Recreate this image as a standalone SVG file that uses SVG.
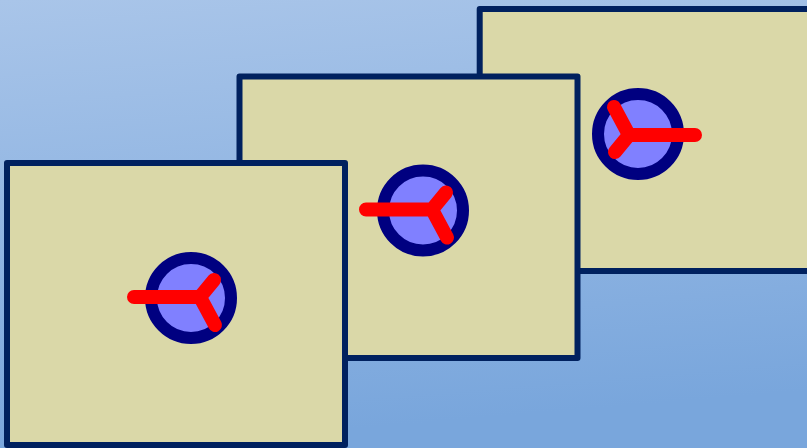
<svg xmlns="http://www.w3.org/2000/svg" xmlns:xlink="http://www.w3.org/1999/xlink" width="807" height="448" viewBox="0 0 807 448">
  <defs>
    <linearGradient id="bg" x1="0" y1="0" x2="0.15" y2="1">
      <stop offset="0" stop-color="#a9c5e9"/>
      <stop offset="1" stop-color="#79a6dc"/>
    </linearGradient>
    <style>
      .frame { fill: #dad8a8; stroke: #00215f; stroke-width: 6; stroke-linejoin: round; }
      .ring { fill: #8080ff; stroke: #000080; stroke-width: 12; }
      .spoke { fill: none; stroke: #ff0000; stroke-width: 14; stroke-linecap: round; stroke-linejoin: round; }
    </style>
    <g id="knob">
      <circle class="ring" cx="0" cy="0" r="40"/>
      <path class="spoke" d="M-57,-1 L9,-1 L23,-18 M9,-1 L24,27"/>
    </g>
  </defs>

  <rect x="0" y="0" width="807" height="448" fill="url(#bg)"/>

  <g id="frame3">
    <rect class="frame" x="479.7" y="9" width="340" height="262"/>
    <use xlink:href="#knob" transform="translate(638,134) rotate(180)"/>
  </g>

  <g id="frame2">
    <rect class="frame" x="239.5" y="76.5" width="338" height="281.5"/>
    <use xlink:href="#knob" transform="translate(423,210.5)"/>
  </g>

  <g id="frame1">
    <rect class="frame" x="7" y="163" width="338" height="282"/>
    <use xlink:href="#knob" transform="translate(191,298)"/>
  </g>
</svg>
